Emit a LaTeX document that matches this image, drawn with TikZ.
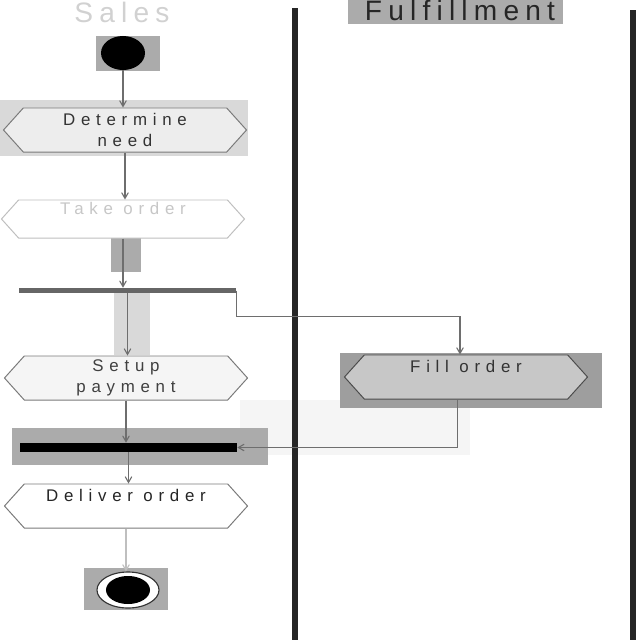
\documentclass[tikz,border=0pt]{standalone}
\usepackage{fontspec}
\setmainfont{Liberation Sans}
\newfontfamily\actfont[LetterSpace=34]{Liberation Sans}
\newfontfamily\lanefont[LetterSpace=22]{Liberation Sans}
\usetikzlibrary{shapes.geometric, shapes.symbols, arrows}

\definecolor{flowgrey}{HTML}{6E6E6E}
\definecolor{backgrey}{HTML}{ABABAB}
\definecolor{lightback}{HTML}{D9D9D9}
\definecolor{actline}{HTML}{7A7A7A}

\tikzset{
  act/.style={signal, signal to=west and east, signal pointer angle=96,
    draw=actline, line width=0.7pt, fill=#1, minimum width=6.075cm,
    minimum height=1.1cm, inner sep=1pt, align=center,
    font=\actfont\fontsize{12}{14.5}\selectfont},
  act/.default=white,
  flow/.style={->, draw=flowgrey, line width=0.8pt},
  bar/.style={rectangle, fill=#1, inner sep=0pt, minimum width=5.425cm},
  lane/.style={draw=black!85, line width=4.2pt},
  backdrop/.style={fill=#1},
  backdrop/.default=backgrey
}

\begin{document}
\begin{tikzpicture}[x=0.025cm, y=-0.025cm, >=angle 60]
  \useasboundingbox (0,0) rectangle (640,640);

  % grey highlight patches behind the states
  \fill[backdrop] (96,36) rectangle (160,71);
  \fill[backdrop=lightback] (0,100) rectangle (248,156);
  \fill[backdrop] (111,238) rectangle (141,272);
  \fill[backdrop=lightback] (114,293) rectangle (150,355);
  \fill[backdrop] (348,0) rectangle (563,24);
  \fill[backdrop=black!4] (240,400) rectangle (470,455);
  \fill[backdrop=black!38] (340,353) rectangle (602,408);
  \fill[backdrop] (12,428) rectangle (268,465);
  \fill[backdrop] (84,568) rectangle (168,610);

  % swimlanes
  \node[font=\lanefont\fontsize{20}{20}\selectfont, text=black!18] (sales) at (122,12) {Sales};
  \node[font=\lanefont\fontsize{20}{20}\selectfont, text=black!85] (fulfil) at (460,10) {Fulfillment};
  \draw[lane] (295,8) -- (295,640);
  \draw[lane] (633,10) -- (633,640);

  % sales lane
  \node[ellipse, fill=black, minimum width=1.1cm, minimum height=0.85cm, inner sep=0pt] (start) at (123,53) {};
  \node[act=black!7, text=black!80] (need) at (125,130) {Determine\\need};
  \node[act, draw=black!25, minimum height=0.95cm, text=black!22] (take) at (123,219) {Take order\\\mbox{}};
  \node[bar=black!60, minimum height=0.125cm] (fork) at (127.5,290.5) {};
  \node[act=black!4, text=black!75] (setup) at (126,378) {Setup\\payment};
  \node[bar=black, minimum height=0.225cm] (join) at (128.5,447.5) {};
  \node[act, text=black!85] (deliver) at (126,506) {Deliver order\\\mbox{}};
  \node[ellipse, draw=black!80, line width=0.8pt, fill=white, minimum width=1.55cm, minimum height=0.9cm, inner sep=0pt] (stop) at (128,590) {};
  \node[ellipse, fill=black, minimum width=1.1cm, minimum height=0.7cm, inner sep=0pt] (stopdot) at (stop) {};

  % fulfillment lane
  \node[act=black!22, draw=black!70, text=black!80] (fill) at (466,377) {Fill order\\\mbox{}};

  % transitions
  \draw[flow] (start.south) -- (start.south |- need.north);
  \draw[flow] (need.south) -- (need.south |- take.north);
  \draw[flow] (take.south) -- (take.south |- fork.north);
  \draw[flow] (fork.south) -- (fork.south |- setup.north);
  \draw[flow] (fork.east) -- ++(0,26) -| ([xshift=-0.15cm]fill.north);
  \draw[flow] ([xshift=-0.22cm]fill.south) |- (join.east);
  \draw[flow] (setup.south) -- (setup.south |- join.north);
  \draw[flow] (join.south) -- (join.south |- deliver.north);
  \draw[flow, draw=black!25] (deliver.south) -- (deliver.south |- stop.north);
\end{tikzpicture}
\end{document}
